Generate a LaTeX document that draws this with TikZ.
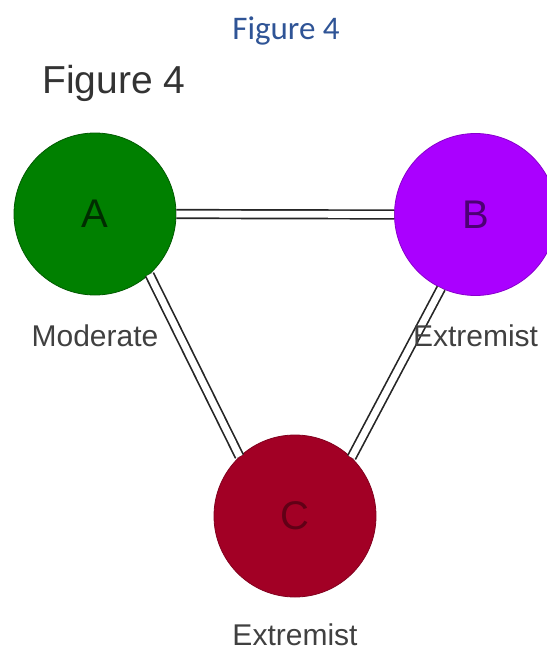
\documentclass[tikz,border=0pt]{standalone}
\usepackage{fontspec}
\setmainfont{Liberation Sans}
\newfontfamily\capfont{Carlito}
\usetikzlibrary{positioning}
\definecolor{figblue}{RGB}{47,84,150}
\definecolor{modgrn}{RGB}{0,128,0}
\definecolor{extpur}{RGB}{170,0,255}
\definecolor{extred}{RGB}{162,0,37}
\definecolor{txtgry}{RGB}{64,64,64}

\tikzset{
  party/.style={circle, minimum size=162pt, inner sep=0pt,
    font=\fontsize{40}{40}\selectfont, line width=0.8pt},
  stance/.style={anchor=base, inner sep=0pt, text=txtgry,
    font=\fontsize{30}{30}\selectfont},
  tie/.style={draw=black!85, line width=1.7pt, double=white,
    double distance=6.8pt}
}

\begin{document}
\begin{tikzpicture}[x=1pt, y=-1pt]
        \useasboundingbox (0,0) rectangle (546,650);
        % titles
        \node[font=\capfont\fontsize{33}{33}\selectfont, text=figblue, anchor=base]
          (capt) at (286,40) {Figure 4};
        \node[font=\fontsize{39}{39}\selectfont, text=black!80, anchor=base west, inner sep=0pt]
          (head) at (42,94) {Figure 4};
        % parties
        \node[party, fill=modgrn, draw=modgrn!70!black, text=modgrn!35!black] (A) at (95,214) {A};
        \node[party, fill=extpur, draw=extpur!80!black, text=extpur!45!black] (B) at (475.5,214.5) {B};
        \node[party, fill=extred, draw=extred!80!black, text=extred!60!black] (C) at (295,516) {C};
        % ties
        \draw[tie] (A.east) -- (B.west);
        \draw[tie] (A.-48) -- (C.133);
        \draw[tie] (B.-115) -- (C.46);
        % stances
        \node[stance] (sA) at ([yshift=-132pt]A.center) {Moderate};
        \node[stance] (sB) at ([yshift=-131.5pt]B.center) {Extremist};
        \node[stance] (sC) at ([yshift=-129pt]C.center) {Extremist};
      \end{tikzpicture}
\end{document}
